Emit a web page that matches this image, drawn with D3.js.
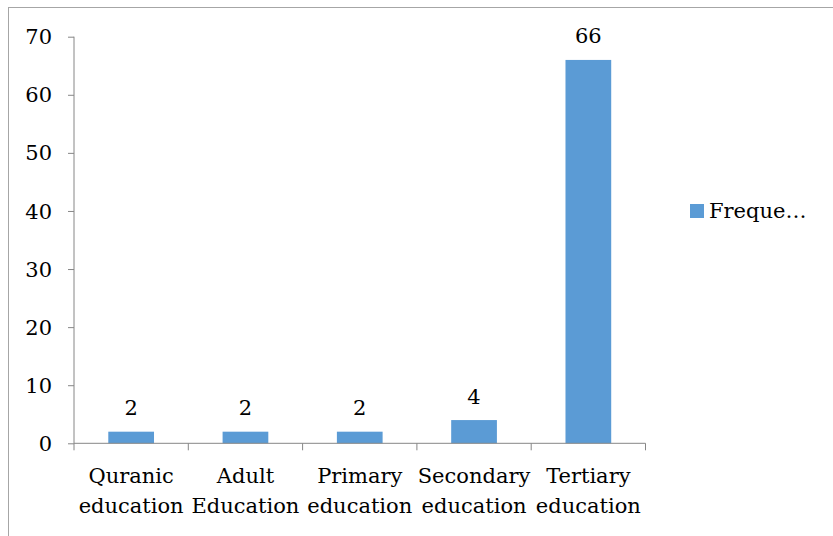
<!DOCTYPE html>
<html>
<head>
<meta charset="utf-8">
<script src="https://cdn.jsdelivr.net/npm/d3@7"></script>
<style>
  html, body { margin: 0; padding: 0; background: #fff; }
  svg { display: block; }
</style>
</head>
<body>
<svg id="chart" width="833" height="536"></svg>
<script>
// Education level of respondents (frequency)
const categories = [
  ["Quranic", "education"],
  ["Adult", "Education"],
  ["Primary", "education"],
  ["Secondary", "education"],
  ["Tertiary", "education"]
];
const frequency = [2, 2, 2, 4, 66];
const yTicks = [0, 10, 20, 30, 40, 50, 60, 70];
const seriesName = "Freque…";

const svg = d3.select("#chart");
const barColor = "#5B9BD5";
const axisColor = "#868686";

function textStyle(sel) {
  sel.style("font-family", "'DejaVu Serif'")
     .attr("font-size", 21)
     .attr("fill", "#000");
}

// chart frame
svg.append("rect")
  .attr("x", 8.5).attr("y", 7.5)
  .attr("width", 900).attr("height", 700)
  .attr("fill", "none").attr("stroke", "#a6a6a6").attr("stroke-width", 1);

const plot = { left: 74, right: 645.5, top: 36.7, bottom: 443.3 };

const x = d3.scaleBand()
  .domain(d3.range(categories.length))
  .range([plot.left, plot.right]);

const y = d3.scaleLinear()
  .domain([0, 70])
  .range([plot.bottom, plot.top]);

// y axis line and tick marks
const yAxis = svg.append("g")
  .attr("transform", `translate(${plot.left},0)`)
  .call(d3.axisLeft(y).tickValues(yTicks).tickSize(6).tickFormat(""));
yAxis.select(".domain").attr("stroke", axisColor).attr("d", `M0,${plot.top}V${plot.bottom}`);
yAxis.selectAll(".tick line").attr("stroke", axisColor);
yAxis.selectAll(".tick text").remove();

// y tick labels
svg.append("g").selectAll("text")
  .data(yTicks)
  .join("text")
  .attr("x", plot.left - 22)
  .attr("y", d => y(d))
  .attr("dy", "0.36em")
  .attr("text-anchor", "end")
  .call(textStyle)
  .text(d => d);

// bars
const barW = x.bandwidth() * 0.4;
svg.append("g").selectAll("rect")
  .data(frequency)
  .join("rect")
  .attr("x", (d, i) => x(i) + (x.bandwidth() - barW) / 2)
  .attr("y", d => y(d))
  .attr("width", barW)
  .attr("height", d => y(0) - y(d))
  .attr("fill", barColor);

// value labels
svg.append("g").selectAll("text")
  .data(frequency)
  .join("text")
  .attr("x", (d, i) => x(i) + x.bandwidth() / 2)
  .attr("y", d => y(d) - 16.5)
  .attr("text-anchor", "middle")
  .call(textStyle)
  .text(d => d);

// x axis
const xAxisG = svg.append("g").attr("transform", `translate(0,${plot.bottom})`);
xAxisG.append("line")
  .attr("x1", plot.left).attr("x2", plot.right)
  .attr("stroke", axisColor);
const boundaries = d3.range(categories.length + 1).map(i => plot.left + i * x.step());
xAxisG.selectAll("line.tick")
  .data(boundaries)
  .join("line")
  .attr("class", "tick")
  .attr("x1", d => d).attr("x2", d => d)
  .attr("y1", 0).attr("y2", 7)
  .attr("stroke", axisColor);

// category labels, two lines each
const catLines = categories.flatMap((lines, i) => lines.map((t, j) => ({ t, i, j })));
svg.append("g").selectAll("text")
  .data(catLines)
  .join("text")
  .attr("x", d => x(d.i) + x.bandwidth() / 2)
  .attr("y", d => 483 + d.j * 30)
  .attr("text-anchor", "middle")
  .call(textStyle)
  .text(d => d.t);

// legend swatch and label
svg.append("rect")
  .attr("x", 690).attr("y", 204)
  .attr("width", 14).attr("height", 14)
  .attr("fill", barColor);
svg.append("text")
  .attr("x", 709).attr("y", 218)
  .call(textStyle)
  .text(seriesName);
</script>
</body>
</html>
